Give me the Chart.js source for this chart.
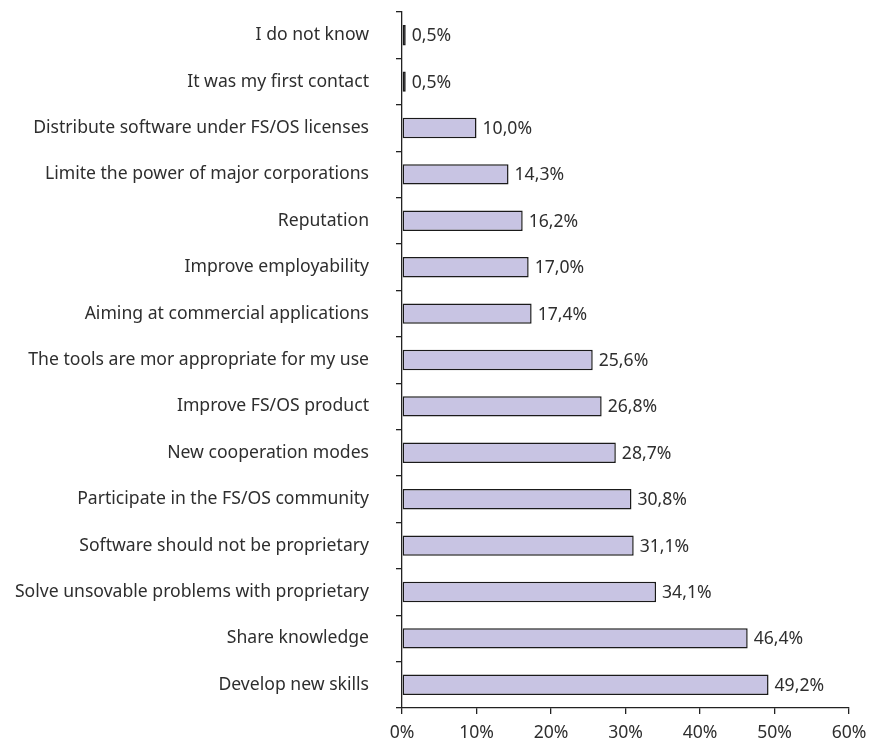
<!DOCTYPE html>
<html>
<head>
<meta charset="utf-8">
<script src="https://cdn.jsdelivr.net/npm/chart.js@4/dist/chart.umd.min.js"></script>
<style>
    html, body { margin: 0; padding: 0; background: #fff; }
    #wrap { width: 870px; height: 749px; }
</style>
</head>
<body>
<div id="wrap"><canvas id="reasons-chart" width="870" height="749"></canvas></div>
<script>
let categories = [
    'I do not know',
    'It was my first contact',
    'Distribute software under FS/OS licenses',
    'Limite the power of major corporations',
    'Reputation',
    'Improve employability',
    'Aiming at commercial applications',
    'The tools are mor appropriate for my use',
    'Improve FS/OS product',
    'New cooperation modes',
    'Participate in the FS/OS community',
    'Software should not be proprietary',
    'Solve unsovable problems with proprietary',
    'Share knowledge',
    'Develop new skills'
];

let percentages = [0.5, 0.5, 10.0, 14.3, 16.2, 17.0, 17.4, 25.6, 26.8, 28.7, 30.8, 31.1, 34.1, 46.4, 49.2];

let xTicks = [0, 10, 20, 30, 40, 50, 60];

const textColor = '#2e2e2e';
const fontFamily = '"Noto Sans", "Open Sans", sans-serif';
const fontSize = 17.6;

// writes "49,2%" next to the end of every bar
const valueLabels = {
    id: 'valueLabels',
    afterDatasetsDraw(chart) {
        const ctx = chart.ctx;
        const meta = chart.getDatasetMeta(0);
        ctx.save();
        ctx.font = fontSize + 'px ' + fontFamily;
        ctx.fillStyle = textColor;
        ctx.textAlign = 'left';
        ctx.textBaseline = 'middle';
        meta.data.forEach((bar, i) => {
            let text = percentages[i].toFixed(1).replace('.', ',') + '%';
            ctx.fillText(text, bar.x + 6, bar.y + 1);
        });
        ctx.restore();
    }
};

new Chart(document.getElementById('reasons-chart'), {
    type: 'bar',
    data: {
        labels: categories,
        datasets: [{
            data: percentages,
            backgroundColor: '#c8c4e3',
            borderColor: '#1a1a1a',
            borderWidth: 1.5,
            borderSkipped: false,
            barPercentage: 0.44,
            categoryPercentage: 1
        }]
    },
    options: {
        indexAxis: 'y',
        responsive: false,
        animation: false,
        layout: {
            padding: {top: 12, right: 21, bottom: 0, left: 0}
        },
        plugins: {
            legend: {display: false},
            tooltip: {enabled: false}
        },
        scales: {
            x: {
                min: 0,
                max: 60,
                afterBuildTicks: (scale) => {
                    scale.ticks = xTicks.map(v => ({value: v}));
                },
                afterFit: (scale) => {
                    scale.height = 41;
                    scale.paddingLeft = 0;
                    scale.paddingRight = 0;
                },
                border: {color: '#222', width: 1.3},
                grid: {
                    drawOnChartArea: false,
                    drawTicks: true,
                    tickLength: 6,
                    color: '#222',
                    lineWidth: 1.3
                },
                ticks: {
                    color: textColor,
                    padding: 8,
                    font: {size: fontSize, family: fontFamily},
                    callback: (value) => value + '%'
                }
            },
            y: {
                afterFit: (scale) => {
                    scale.width = 402;
                    scale.paddingTop = 0;
                    scale.paddingBottom = 0;
                },
                border: {color: '#222', width: 1.3},
                grid: {
                    offset: true,
                    drawOnChartArea: false,
                    drawTicks: true,
                    tickLength: 6,
                    color: '#222',
                    lineWidth: 1.3
                },
                ticks: {
                    color: textColor,
                    padding: 27,
                    autoSkip: false,
                    font: {size: fontSize, family: fontFamily}
                }
            }
        }
    },
    plugins: [valueLabels]
});
</script>
</body>
</html>
